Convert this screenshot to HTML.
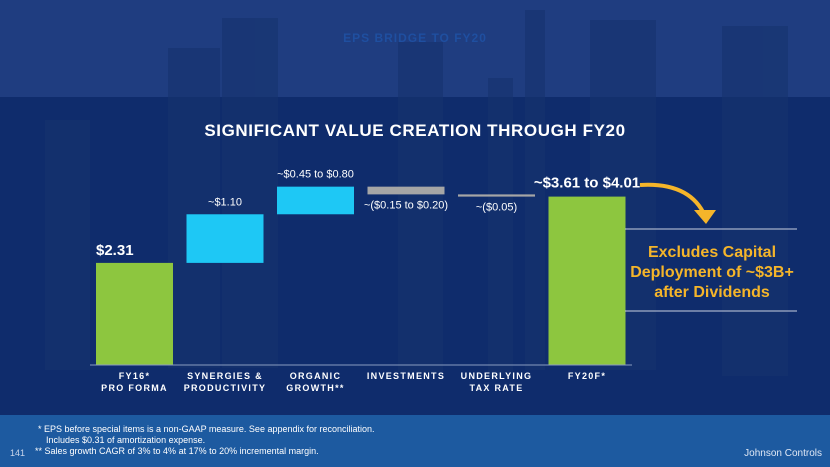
<!DOCTYPE html>
<html><head><meta charset="utf-8"><style>
body{margin:0}
#c{position:relative;width:830px;height:467px;overflow:hidden;background:#0f2c6c;font-family:"Liberation Sans",sans-serif}
</style></head><body>
<div id="c">
<svg width="830" height="467">
<rect x="0" y="0" width="830" height="97" fill="#1f3d80"/>
<g fill="#16336e" opacity="0.6">
<rect x="168" y="48" width="52" height="320"/><rect x="222" y="18" width="56" height="350"/>
<rect x="398" y="42" width="45" height="330"/><rect x="488" y="78" width="25" height="300"/>
<rect x="525" y="10" width="20" height="360"/><rect x="590" y="20" width="66" height="350"/>
<rect x="722" y="26" width="66" height="350"/><rect x="45" y="120" width="45" height="250"/>
</g>
<rect x="0" y="415" width="830" height="52" fill="#1d5aa0"/>
<text x="415" y="42" fill="#1f4fa0" font-size="12" font-weight="bold" text-anchor="middle" letter-spacing="1">EPS BRIDGE TO FY20</text>
<text x="415" y="136" fill="#fff" font-size="17" font-weight="bold" text-anchor="middle" letter-spacing="0.6">SIGNIFICANT VALUE CREATION THROUGH FY20</text>
<g id="bars"></g>
<line x1="90" y1="365" x2="632" y2="365" stroke="#8a9cc0" stroke-width="1"/>
<path d="M640 185 Q690 182 705 216" fill="none" stroke="#f5b52a" stroke-width="4"/>
<polygon points="694,210 716,210 706,224" fill="#f5b52a"/>
<line x1="625" y1="229" x2="797" y2="229" stroke="#c9d0e0"/>
<line x1="625" y1="311" x2="797" y2="311" stroke="#c9d0e0"/>
<g fill="#f5b52a" font-size="16" font-weight="bold" text-anchor="middle">
<text x="712" y="257">Excludes Capital</text><text x="712" y="277">Deployment of ~$3B+</text><text x="712" y="297">after Dividends</text></g>
<g fill="#fff" font-size="9">
<text x="38" y="432">* EPS before special items is a non-GAAP measure.  See appendix for reconciliation.</text>
<text x="46" y="443">Includes $0.31 of amortization expense.</text>
<text x="35" y="454">** Sales growth CAGR of 3% to 4% at 17% to 20% incremental margin.</text></g>
<text x="10" y="456" fill="#c8d4ea" font-size="9">141</text>
<text x="822" y="456" fill="#e0e8f5" font-size="10" text-anchor="end">Johnson Controls</text>
</svg>
</div>
<script>
const categories=["FY16*|PRO FORMA","SYNERGIES &|PRODUCTIVITY","ORGANIC|GROWTH**","INVESTMENTS","UNDERLYING|TAX RATE","FY20F*"];
const values=[2.31,1.10,0.625,-0.175,-0.05,3.81];
const kinds=["total","delta","delta","delta","delta","total"];
const labels=["$2.31","~$1.10","~$0.45 to $0.80","~($0.15 to $0.20)","~($0.05)","~$3.61 to $4.01"];
const colors={total:"#8dc63f",up:"#1ec8f5",down:"#a6a6a6"};
const NS="http://www.w3.org/2000/svg",g=document.getElementById('bars');
const base=365,scale=44.2,x0=96,step=90.5,bw=77;
const y=v=>base-v*scale;
let run=0;
categories.forEach((c,i)=>{
 const x=x0+i*step;let top,bot,col;
 if(kinds[i]==="total"){top=y(values[i]);bot=base;col=colors.total;run=values[i];}
 else{const a=run,b=run+values[i];top=y(Math.max(a,b));bot=y(Math.min(a,b));col=values[i]>=0?colors.up:colors.down;run=b;}
 const r=document.createElementNS(NS,'rect');
 
 
 r.setAttribute('x',x);r.setAttribute('y',top);r.setAttribute('width',bw);r.setAttribute('height',Math.max(bot-top,2));r.setAttribute('fill',col);
 g.appendChild(r);
 const t=document.createElementNS(NS,'text');
 
 
 const big=kinds[i]==="total";
 t.setAttribute('fill','#fff');t.setAttribute('font-size',big?15:11);if(big)t.setAttribute('font-weight','bold');
 if(i===0){t.setAttribute('x',x);t.setAttribute('y',top-8);}
 else if(values[i]<0){t.setAttribute('x',x+bw/2);t.setAttribute('text-anchor','middle');t.setAttribute('y',bot+14);}
 else{t.setAttribute('x',x+bw/2);t.setAttribute('text-anchor','middle');t.setAttribute('y',top-9);}
 t.textContent=labels[i];g.appendChild(t);
 c.split('|').forEach((ln,j)=>{
  const l=document.createElementNS(NS,'text');
  
  
  l.setAttribute('x',x+bw/2);l.setAttribute('y',379+j*12);l.setAttribute('text-anchor','middle');
  l.setAttribute('fill','#fff');l.setAttribute('font-size','9');l.setAttribute('font-weight','bold');l.setAttribute('letter-spacing','1.3');
  l.textContent=ln;g.appendChild(l);
 });
});
</script>
</body></html>
